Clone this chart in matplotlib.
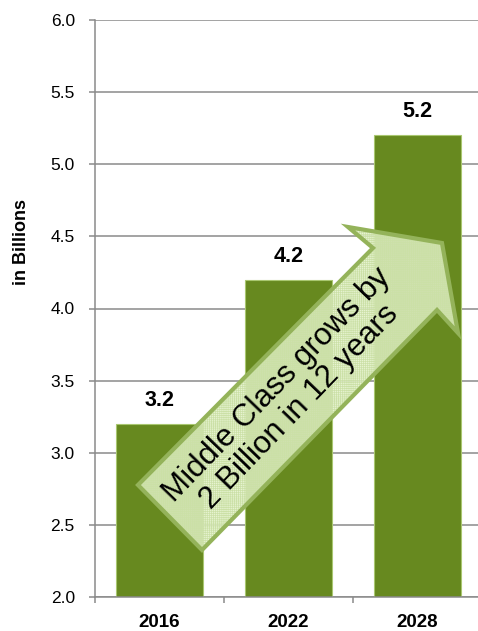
import matplotlib
matplotlib.use("Agg")
import matplotlib.pyplot as plt
from matplotlib.patches import Polygon

plt.rcParams['font.family'] = ['Liberation Sans', 'DejaVu Sans']
plt.rcParams['hatch.linewidth'] = 0.5

# Data
years = ["2016", "2022", "2028"]
values = [3.2, 4.2, 5.2]
value_labels = ["3.2", "4.2", "5.2"]
y_ticks = [2.0, 2.5, 3.0, 3.5, 4.0, 4.5, 5.0, 5.5, 6.0]
y_label = "in Billions"
arrow_text = "Middle Class grows by\n2 Billion in 12 years"

W, H = 478, 631
fig = plt.figure(figsize=(W / 100, H / 100), dpi=100)
ax = fig.add_axes([95 / W, (H - 597) / H, (482 - 95) / W, (597 - 20) / H])

bar_color = "#67891f"
grid_color = "#8a8a8a"

x = list(range(len(years)))
ax.bar(x, values, width=0.667, bottom=0, color=bar_color,
       edgecolor="#a9c770", linewidth=0.8, zorder=2)

ax.set_xlim(-0.5, len(years) - 0.5)
ax.set_ylim(y_ticks[0], y_ticks[-1])
ax.set_yticks(y_ticks)
ax.set_yticklabels([f"{t:.1f}" for t in y_ticks])
ax.yaxis.grid(True, color=grid_color, linewidth=1.1, zorder=0)
ax.set_axisbelow(True)

# x ticks at category boundaries, labels at centers
ax.set_xticks([i - 0.5 for i in range(len(years) + 1)])
ax.set_xticklabels([])
ax.set_xticks(x, minor=True)
ax.set_xticklabels(years, minor=True, fontsize=13.5, fontweight="bold")
ax.tick_params(axis="x", which="major", length=4.5, width=1.1, color=grid_color, direction="out")
ax.tick_params(axis="x", which="minor", length=0, pad=12)
ax.tick_params(axis="y", length=4.5, width=1.1, color=grid_color, pad=10, labelsize=12.5)

for s in ["top", "right"]:
    ax.spines[s].set_visible(False)
for s in ["left", "bottom"]:
    ax.spines[s].set_color(grid_color)
    ax.spines[s].set_linewidth(1.1)

ax.set_ylabel(y_label, fontsize=13, fontweight="bold")
ax.yaxis.set_label_coords(-0.19, 0.615)
ax.yaxis.label.set_va("center")

for xi, v, lab in zip(x, values, value_labels):
    ax.annotate(lab, (xi, v), xytext=(0, 13), textcoords="offset points",
                ha="center", va="baseline", fontsize=15.5, fontweight="bold", zorder=5)

# Big arrow annotation (figure pixel coordinates)
pts_px = [(138, 485), (373, 248), (348, 227), (442, 243), (458, 333), (437, 310), (202, 550)]
pts = [(px / W, 1 - py / H) for px, py in pts_px]
fill = Polygon(pts, closed=True, transform=fig.transFigure, facecolor="#e2f1c8",
               alpha=0.85, edgecolor="none", zorder=3)
hatch = Polygon(pts, closed=True, transform=fig.transFigure, fill=False,
                hatch="++++++++", edgecolor="#cbe0a6", linewidth=0, zorder=3.1)
edge = Polygon(pts, closed=True, transform=fig.transFigure, fill=False,
               edgecolor="#94b35a", linewidth=3, joinstyle="miter", zorder=3.2)
for p in (fill, hatch, edge):
    fig.add_artist(p)

fig.text(288 / W, 1 - 396 / H, arrow_text, rotation=46, rotation_mode="anchor",
         ha="center", va="center", multialignment="center", fontsize=22.5,
         color="black", linespacing=1.05, zorder=4)

fig.savefig("out.png", dpi=100)
